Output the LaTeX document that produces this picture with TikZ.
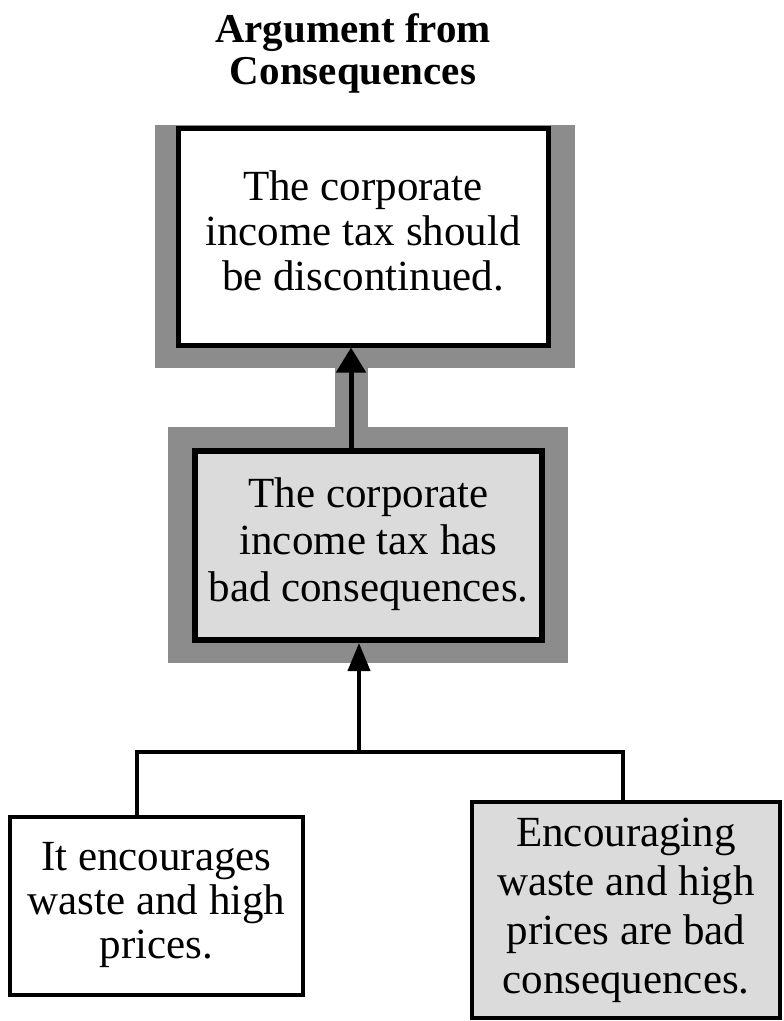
\documentclass[tikz,border=0pt]{standalone}
\usepackage{fontspec}
\setmainfont{Liberation Serif}
\usetikzlibrary{arrows.meta}

\definecolor{bandgray}{gray}{0.55}
\definecolor{paperfill}{gray}{0.86}

% tightly set multi-line text
\newcommand{\boxtext}[2]{\fontsize{43}{#1}\selectfont\begin{tabular}{@{}c@{}}#2\end{tabular}}

\begin{document}
\begin{tikzpicture}[x=1pt, y=-1pt,
  claim/.style={draw=black, line width=5pt, inner sep=0pt},
  link/.style={black, line width=4pt, line join=miter}]

  \useasboundingbox (0,0) rectangle (784,1021);

  % Shaded bands behind the two upper claims
  \fill[bandgray] (155,125) rectangle (575,368);
  \fill[bandgray] (335,368) rectangle (368,427);
  \fill[bandgray] (168,427) rectangle (568,663);

  % Title
  \node (title) at (353,55) {\fontsize{41}{42}\bfseries\selectfont\begin{tabular}{@{}c@{}}Argument from\\Consequences\end{tabular}};

  % Conclusion
  \node[claim, fill=white, minimum width=370pt, minimum height=217pt] (concl) at (363,236.5)
    {\raisebox{10pt}{\boxtext{45}{The corporate\\income tax should\\be discontinued.}}};

  % Intermediate claim
  \node[claim, line width=6pt, fill=paperfill, minimum width=347pt, minimum height=189pt] (conseq) at (368.5,545.5)
    {\raisebox{5pt}{\boxtext{47}{The corporate\\income tax has\\bad consequences.}}};

  % Premises
  \node[claim, line width=4pt, fill=white, minimum width=293pt, minimum height=178pt] (premA) at (156.5,906)
    {\boxtext{44}{It encourages\\waste and high\\prices.}};
  \node[claim, line width=4pt, fill=paperfill, minimum width=308pt, minimum height=216pt] (premB) at (626,910)
    {\raisebox{3pt}{\boxtext{49}{Encouraging\\waste and high\\prices are bad\\consequences.}}};

  % Support arrows
  \draw[line width=5pt, -{Triangle[length=25pt, width=29pt]}]
    ([xshift=-17.5pt]conseq.north) -- ([xshift=-17.5pt]conseq.north |- concl.south);

  \coordinate (fork) at (359,752);
  \draw[link] ([xshift=-19.5pt]premA.north) |- (fork) -| ([xshift=-3pt]premB.north);
  \draw[line width=4pt, -{Triangle[length=28pt, width=22pt]}] (fork) -- (fork |- conseq.south);

\end{tikzpicture}
\end{document}
